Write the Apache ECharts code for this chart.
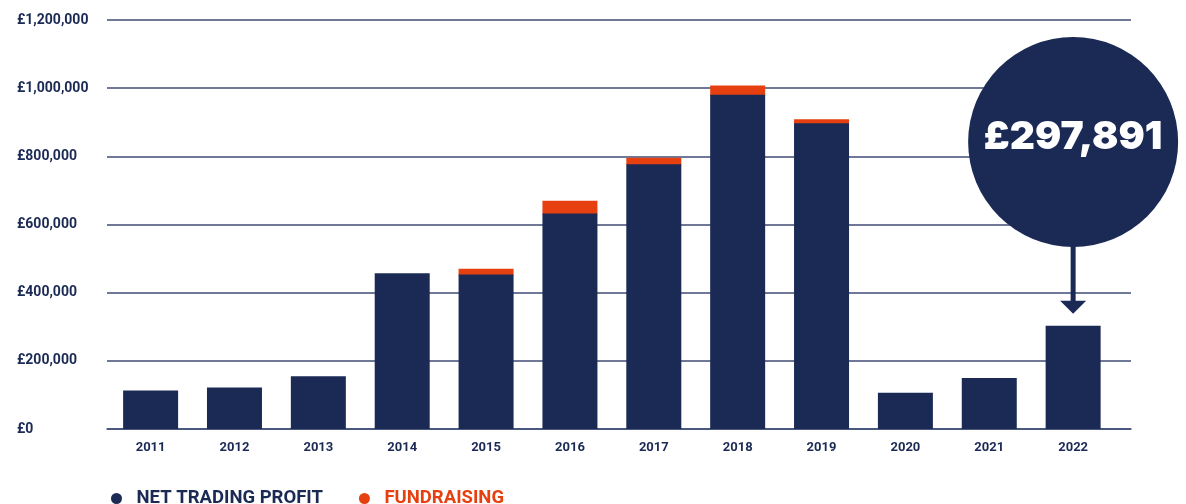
<!DOCTYPE html>
<html>
<head>
	<meta charset="utf-8">
	<title>net trading profit</title>
	<style>
		html, body { margin: 0; padding: 0; background: #fff; }
	</style>
</head>
<body>
<div id="container" style="width:1186px;height:504px"></div>
<script type="text/javascript" src="https://cdn.jsdelivr.net/npm/echarts@6/dist/echarts.min.js"></script>
<script type="text/javascript">
    var years = ['2011', '2012', '2013', '2014', '2015', '2016', '2017', '2018', '2019', '2020', '2021', '2022'];
    var netTrading = [113000, 122000, 155000, 457000, 453000, 632000, 777000, 981000, 897000, 106000, 150000, 303000];
    var fundraising = [0, 0, 0, 0, 17000, 38000, 19000, 27000, 12000, 0, 0, 0];
    var yTicks = [0, 200000, 400000, 600000, 800000, 1000000, 1200000];
    var highlightLabel = '£297,891';

    var navy = '#1b2a55';
    var orange = '#e64011';
    var barW = 55;

    function money(v) {
        return '£' + v.toString().replace(/\B(?=(\d{3})+(?!\d))/g, ',');
    }

    // x is a value axis so the last bar can sit short of the right edge, like the original
    var positions = years.map(function (y, i) { return i; });

    // orange segment sits on top of the navy bar: [x, from, to]
    var fundSegments = [];
    fundraising.forEach(function (v, i) {
        if (v > 0) fundSegments.push([positions[i], netTrading[i], netTrading[i] + v]);
    });

    function renderFund(params, api) {
        var p0 = api.coord([api.value(0), api.value(1)]);
        var p1 = api.coord([api.value(0), api.value(2)]);
        return {
            type: 'rect',
            shape: { x: p0[0] - barW / 2, y: p1[1], width: barW, height: p0[1] - p1[1] + 1 },
            style: { fill: orange }
        };
    }

    var dom = document.getElementById('container');
    var myChart = echarts.init(dom);

    var option = {
        animation: false,
        textStyle: { fontFamily: 'Roboto' },
        grid: {
            left: 107,
            right: 55,
            top: 20,
            bottom: 75
        },
        legend: {
            left: 106,
            top: 484,
            icon: 'circle',
            itemWidth: 30,
            itemHeight: 11,
            itemGap: 36,
            selectedMode: false,
            textStyle: { fontSize: 18.5, fontWeight: 'bold' },
            data: [
                { name: 'NET TRADING PROFIT', itemStyle: { color: navy }, textStyle: { color: navy } },
                { name: 'FUNDRAISING', itemStyle: { color: orange }, textStyle: { color: orange } }
            ]
        },
        xAxis: {
            type: 'value',
            min: -0.52,
            max: 11.69,
            splitLine: { show: false },
            axisLine: { onZero: false, lineStyle: { color: '#3f4d75', width: 1.5 } },
            axisTick: { show: false },
            axisLabel: {
                color: navy,
                fontWeight: 'bold',
                fontSize: 13,
                margin: 12,
                customValues: positions,
                formatter: function (v) { return years[Math.round(v)]; }
            }
        },
        yAxis: {
            type: 'value',
            min: yTicks[0],
            max: yTicks[yTicks.length - 1],
            interval: 200000,
            axisLine: { show: false },
            axisTick: { show: false },
            splitLine: { lineStyle: { color: '#3f4d75', width: 1.5 } },
            axisLabel: {
                color: navy,
                fontWeight: 'bold',
                fontSize: 14,
                align: 'left',
                margin: 90,
                formatter: money
            }
        },
        series: [
            {
                name: 'NET TRADING PROFIT',
                type: 'bar',
                barWidth: barW,
                z: 3,
                itemStyle: { color: navy },
                data: netTrading.map(function (v, i) { return [positions[i], v]; })
            },
            {
                name: 'FUNDRAISING',
                type: 'custom',
                z: 2,
                itemStyle: { color: orange },
                encode: { x: 0, y: [1, 2] },
                renderItem: renderFund,
                data: fundSegments
            }
        ]
    };

    myChart.setOption(option, true);

    // callout bubble over the last year
    var last = years.length - 1;
    var cx = myChart.convertToPixel({ seriesIndex: 0 }, [positions[last], 0])[0];
    var barTop = myChart.convertToPixel({ seriesIndex: 0 }, [positions[last], netTrading[last]])[1];
    var cy = 142, r = 105;
    var tipY = barTop - 12;
    myChart.setOption({
        graphic: [
            {
                type: 'circle',
                shape: { cx: cx, cy: cy, r: r },
                style: { fill: navy },
                z: 100
            },
            {
                type: 'rect',
                shape: { x: cx - 2.5, y: cy + r - 2, width: 5, height: tipY - 12 - (cy + r - 2) },
                style: { fill: navy },
                z: 100
            },
            {
                type: 'polygon',
                shape: { points: [[cx - 13, tipY - 13], [cx + 13, tipY - 13], [cx, tipY]] },
                style: { fill: navy },
                z: 100
            },
            {
                type: 'text',
                x: cx,
                y: cy - 5,
                style: {
                    text: highlightLabel,
                    fill: '#fff',
                    font: '900 39px Inter',
                    align: 'center',
                    verticalAlign: 'middle'
                },
                z: 101
            }
        ]
    });
</script>
</body>
</html>
